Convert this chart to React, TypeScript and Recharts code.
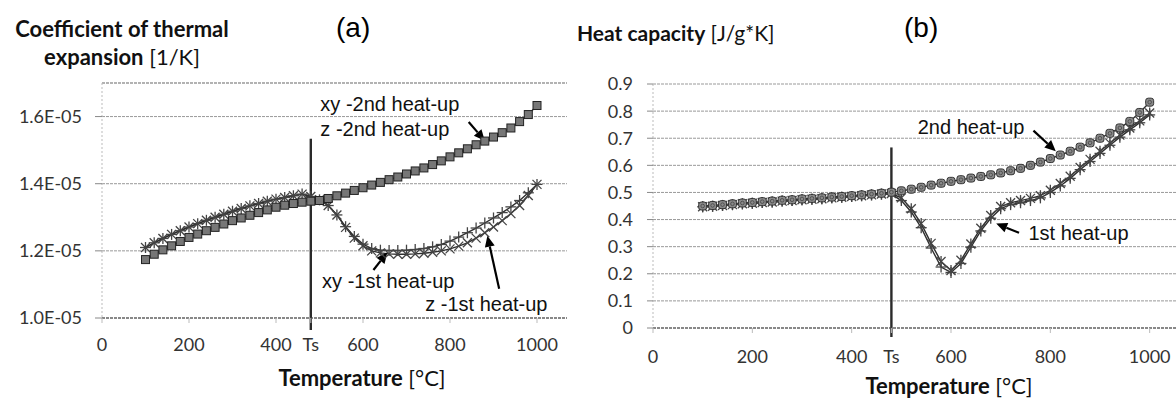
import React from 'react';
import { LineChart, Line, XAxis, YAxis, CartesianGrid, ReferenceLine, ReferenceDot } from 'recharts';

// temperature steps [°C]
const temps = [
    100, 120, 140, 160, 180, 200, 220, 240, 260, 280, 300, 320, 340, 360, 380, 400,
    420, 440, 460, 480, 500, 520, 540, 560, 580, 600, 620, 640, 660, 680, 700, 720,
    740, 760, 780, 800, 820, 840, 860, 880, 900, 920, 940, 960, 980, 1000
];

// (a) coefficient of thermal expansion, in units of 1E-05 1/K
const cteSecond = [
    1.174, 1.190, 1.203, 1.215, 1.228, 1.240, 1.250, 1.260, 1.270, 1.280, 1.290, 1.298, 1.306, 1.314, 1.322, 1.330,
    1.336, 1.341, 1.345, 1.348, 1.350, 1.356, 1.364, 1.372, 1.380, 1.388, 1.396, 1.404, 1.412, 1.420, 1.429, 1.438,
    1.447, 1.457, 1.468, 1.480, 1.492, 1.504, 1.516, 1.527, 1.539, 1.552, 1.566, 1.585, 1.606, 1.633
];
const cteFirstXY = [
    1.210, 1.224, 1.237, 1.249, 1.260, 1.271, 1.281, 1.291, 1.300, 1.309, 1.318, 1.326, 1.334, 1.341, 1.348, 1.354,
    1.359, 1.364, 1.369, 1.362, 1.352, 1.335, 1.307, 1.272, 1.243, 1.220, 1.207, 1.202, 1.201, 1.201, 1.202, 1.204,
    1.207, 1.212, 1.219, 1.229, 1.241, 1.254, 1.268, 1.283, 1.298, 1.314, 1.331, 1.350, 1.373, 1.398
];
const cteFirstZ = [
    1.210, 1.224, 1.237, 1.249, 1.260, 1.271, 1.281, 1.291, 1.300, 1.309, 1.318, 1.326, 1.334, 1.341, 1.348, 1.354,
    1.359, 1.364, 1.369, 1.362, 1.352, 1.335, 1.307, 1.270, 1.238, 1.215, 1.200, 1.194, 1.191, 1.190, 1.190, 1.191,
    1.193, 1.196, 1.200, 1.206, 1.214, 1.224, 1.238, 1.254, 1.271, 1.290, 1.311, 1.335, 1.365, 1.398
];

// (b) heat capacity [J/g*K]
const cpSecond = [
    0.450, 0.452, 0.455, 0.458, 0.461, 0.463, 0.466, 0.468, 0.471, 0.473, 0.476, 0.478, 0.480, 0.483, 0.485, 0.488,
    0.491, 0.494, 0.497, 0.501, 0.506, 0.512, 0.519, 0.527, 0.534, 0.541, 0.547, 0.553, 0.559, 0.565, 0.572, 0.580,
    0.589, 0.600, 0.612, 0.625, 0.638, 0.652, 0.667, 0.683, 0.700, 0.718, 0.738, 0.762, 0.795, 0.833
];
const cpFirstA = [
    0.447, 0.449, 0.452, 0.455, 0.458, 0.460, 0.463, 0.465, 0.468, 0.470, 0.473, 0.475, 0.477, 0.480, 0.482, 0.485,
    0.488, 0.491, 0.494, 0.496, 0.480, 0.440, 0.385, 0.312, 0.245, 0.212, 0.250, 0.310, 0.368, 0.415, 0.448, 0.462,
    0.470, 0.478, 0.488, 0.508, 0.533, 0.560, 0.592, 0.622, 0.652, 0.682, 0.712, 0.738, 0.764, 0.793
];
const cpFirstB = [
    0.447, 0.449, 0.452, 0.455, 0.458, 0.460, 0.463, 0.465, 0.468, 0.470, 0.473, 0.475, 0.477, 0.480, 0.482, 0.485,
    0.488, 0.491, 0.494, 0.494, 0.470, 0.428, 0.370, 0.295, 0.225, 0.205, 0.238, 0.298, 0.358, 0.405, 0.440, 0.455,
    0.462, 0.470, 0.480, 0.500, 0.524, 0.552, 0.584, 0.614, 0.644, 0.674, 0.704, 0.731, 0.757, 0.786
];

const xTicks = [0, 200, 400, 480, 600, 800, 1000];
const cteTicks = [1.0, 1.2, 1.4, 1.6];
const cpTicks = [0, 0.1, 0.2, 0.3, 0.4, 0.5, 0.6, 0.7, 0.8, 0.9];
const TS = 480;

const cteRows = temps.map((t, i) => ({ t, second: cteSecond[i], xy1: cteFirstXY[i], z1: cteFirstZ[i] }));
const cpRows = temps.map((t, i) => ({ t, second: cpSecond[i], firstA: cpFirstA[i], firstB: cpFirstB[i] }));

const LINE = '#2e2e2e';
const MARK = '#444';
const tickFont = { fill: '#333', fontSize: 18, fontFamily: 'Lato' };
const noteFont = { fontFamily: 'Liberation Sans', fontSize: 20, fill: '#111' };

// --- marker shapes ---
const Square = (p: any) => {
    if (p.cx == null || p.cy == null) return <g key={p.key} />;
    return <rect key={p.key} x={p.cx - 4} y={p.cy - 4} width={8} height={8} fill="#777" stroke="#222" strokeWidth={1} />;
};
const RoundSquare = (p: any) => {
    if (p.cx == null || p.cy == null) return <g key={p.key} />;
    return (
        <g key={p.key}>
            <rect x={p.cx - 4} y={p.cy - 4} width={8} height={8} rx={2.5} fill="#8a8a8a" stroke="#333" strokeWidth={1} />
            <circle cx={p.cx} cy={p.cy} r={1.8} fill="none" stroke="#444" strokeWidth={0.8} />
        </g>
    );
};
const Cross = (p: any) => {
    if (p.cx == null || p.cy == null) return <g key={p.key} />;
    const s = 4.5;
    return (
        <g key={p.key} stroke={MARK} strokeWidth={1.3}>
            <line x1={p.cx - s} y1={p.cy - s} x2={p.cx + s} y2={p.cy + s} />
            <line x1={p.cx - s} y1={p.cy + s} x2={p.cx + s} y2={p.cy - s} />
        </g>
    );
};
const Plus = (p: any) => {
    if (p.cx == null || p.cy == null) return <g key={p.key} />;
    const s = 5.5;
    return (
        <g key={p.key} stroke={MARK} strokeWidth={1.3}>
            <line x1={p.cx} y1={p.cy - s} x2={p.cx} y2={p.cy + s} />
            <line x1={p.cx - s} y1={p.cy} x2={p.cx + s} y2={p.cy} />
        </g>
    );
};
const Star = (p: any) => {
    if (p.cx == null || p.cy == null) return <g key={p.key} />;
    const s = 4.5;
    return (
        <g key={p.key} stroke={MARK} strokeWidth={1.3}>
            <line x1={p.cx - s} y1={p.cy - s} x2={p.cx + s} y2={p.cy + s} />
            <line x1={p.cx - s} y1={p.cy + s} x2={p.cx + s} y2={p.cy - s} />
            <line x1={p.cx} y1={p.cy - 5.5} x2={p.cx} y2={p.cy + 5.5} />
        </g>
    );
};

// Ts line, pulled a little below the x axis
const tsShape = (ext: number) => (p: any) => {
    const top = Math.min(p.y1, p.y2);
    const bottom = Math.max(p.y1, p.y2) + ext;
    return <line x1={p.x1} y1={top} x2={p.x2} y2={bottom} stroke="#2a2a2a" strokeWidth={2.4} />;
};

const arrowShape = (p: any) => {
    const { x1, y1, x2, y2 } = p;
    const ang = Math.atan2(y2 - y1, x2 - x1);
    const L = 11;
    const W = 5;
    const bx = x2 - L * Math.cos(ang);
    const by = y2 - L * Math.sin(ang);
    const px = -Math.sin(ang) * W;
    const py = Math.cos(ang) * W;
    return (
        <g>
            <line x1={x1} y1={y1} x2={bx} y2={by} stroke="#000" strokeWidth={2.2} />
            <polygon points={`${x2},${y2} ${bx + px},${by + py} ${bx - px},${by - py}`} fill="#000" />
        </g>
    );
};

const note = (text: string) => (p: any) => (
    <text x={p.cx} y={p.cy} dominantBaseline="central" {...noteFont}>{text}</text>
);

const fmtX = (v: number) => (v === TS ? 'Ts' : String(v));

const CteChart = () => (
    <LineChart width={640} height={398} data={cteRows} margin={{ top: 83, right: 16, bottom: 30, left: 0 }}>
        <CartesianGrid vertical={false} stroke="#999" strokeDasharray="3 1" />
        <XAxis
            dataKey="t"
            type="number"
            domain={[0, 1200]}
            ticks={xTicks}
            interval={0}
            tickFormatter={fmtX}
            height={50}
            tick={tickFont}
            tickSize={5}
            tickMargin={15}
            axisLine={{ stroke: '#444', strokeDasharray: '3 1' }}
            tickLine={{ stroke: '#bbb' }}
        />
        <YAxis
            type="number"
            domain={[1.0, 1.7]}
            ticks={cteTicks}
            interval={0}
            width={102}
            tickFormatter={(v: number) => `${v.toFixed(1)}E-05`}
            tick={tickFont}
            tickSize={7}
            tickMargin={13}
            axisLine={{ stroke: '#bbb', strokeDasharray: '2 2' }}
            tickLine={{ stroke: '#888' }}
        />
        <ReferenceLine y={1.7} stroke="#999" strokeDasharray="3 1" />
        <ReferenceLine segment={[{ x: TS, y: 1.534 }, { x: TS, y: 1.0 }]} shape={tsShape(12)} />
        <Line type="linear" dataKey="z1" stroke={LINE} strokeWidth={1.4} dot={Cross} isAnimationActive={false} />
        <Line type="linear" dataKey="xy1" stroke={LINE} strokeWidth={1.4} dot={Plus} isAnimationActive={false} />
        <Line type="linear" dataKey="second" stroke={LINE} strokeWidth={1.4} dot={Square} isAnimationActive={false} />
        <ReferenceDot x={502} y={1.637} shape={note('xy -2nd heat-up')} />
        <ReferenceDot x={502} y={1.562} shape={note('z -2nd heat-up')} />
        <ReferenceLine segment={[{ x: 843, y: 1.584 }, { x: 880, y: 1.528 }]} shape={arrowShape} />
        <ReferenceDot x={506} y={1.109} shape={note('xy -1st heat-up')} />
        <ReferenceLine segment={[{ x: 624, y: 1.143 }, { x: 656, y: 1.196 }]} shape={arrowShape} />
        <ReferenceDot x={743} y={1.042} shape={note('z -1st heat-up')} />
        <ReferenceLine segment={[{ x: 913, y: 1.087 }, { x: 886, y: 1.245 }]} shape={arrowShape} />
    </LineChart>
);

const CpChart = () => (
    <LineChart width={700} height={398} data={cpRows} margin={{ top: 84, right: 31, bottom: 30, left: 0 }}>
        <CartesianGrid vertical={false} stroke="#999" strokeDasharray="3 1" />
        <XAxis
            dataKey="t"
            type="number"
            domain={[0, 1200]}
            ticks={xTicks}
            interval={0}
            tickFormatter={fmtX}
            height={40}
            tick={tickFont}
            tickSize={5}
            tickMargin={17}
            axisLine={{ stroke: '#444', strokeDasharray: '3 1' }}
            tickLine={{ stroke: '#bbb' }}
        />
        <YAxis
            type="number"
            domain={[0, 0.9]}
            ticks={cpTicks}
            interval={0}
            width={73}
            tick={tickFont}
            tickSize={6}
            tickMargin={14}
            axisLine={{ stroke: '#bbb', strokeDasharray: '2 2' }}
            tickLine={{ stroke: '#888' }}
        />
        <ReferenceLine segment={[{ x: TS, y: 0.666 }, { x: TS, y: 0 }]} shape={tsShape(9)} />
        <Line type="linear" dataKey="firstB" stroke={LINE} strokeWidth={1.4} dot={Plus} isAnimationActive={false} />
        <Line type="linear" dataKey="firstA" stroke={LINE} strokeWidth={1.4} dot={Star} isAnimationActive={false} />
        <Line type="linear" dataKey="second" stroke={LINE} strokeWidth={1.4} dot={RoundSquare} isAnimationActive={false} />
        <ReferenceDot x={533} y={0.742} shape={note('2nd heat-up')} />
        <ReferenceLine segment={[{ x: 766, y: 0.728 }, { x: 811, y: 0.652 }]} shape={arrowShape} />
        <ReferenceDot x={756} y={0.349} shape={note('1st heat-up')} />
        <ReferenceLine segment={[{ x: 737, y: 0.351 }, { x: 691, y: 0.385 }]} shape={arrowShape} />
    </LineChart>
);

const abs = (left: number, top: number, extra: React.CSSProperties = {}): React.CSSProperties => ({
    position: 'absolute', left, top, ...extra
});

export default function App() {
    const titleFont: React.CSSProperties = { fontFamily: 'Lato', color: '#111', whiteSpace: 'nowrap' };
    return (
        <div style={{ position: 'absolute', left: 0, top: 0, width: 1176, height: 398, overflow: 'hidden', background: '#fff' }}>
            <div style={abs(0, 0, { width: 567, height: 398, overflow: 'hidden' })}>
                <CteChart />
            </div>
            <div style={abs(580, 0, { width: 596, height: 398, overflow: 'hidden' })}>
                <CpChart />
            </div>

            <div style={abs(0, 15, { ...titleFont, fontSize: 22, width: 244, textAlign: 'center', lineHeight: '28px' })}>
                <b>Coefficient of thermal</b>
                <br />
                <b>expansion</b> [1/K]
            </div>
            <div style={abs(577, 19, { ...titleFont, fontSize: 21, lineHeight: '28px' })}>
                <b>Heat capacity</b> [J/g*K]
            </div>

            <div style={abs(336, 10, { fontFamily: 'Liberation Sans', fontSize: 28, lineHeight: '36px' })}>(a)</div>
            <div style={abs(904, 10, { fontFamily: 'Liberation Sans', fontSize: 28, lineHeight: '36px' })}>(b)</div>

            <div style={abs(252, 364, { ...titleFont, fontSize: 22, width: 220, textAlign: 'center', lineHeight: '28px' })}>
                <b>Temperature</b> [°C]
            </div>
            <div style={abs(839, 372, { ...titleFont, fontSize: 22, width: 220, textAlign: 'center', lineHeight: '28px' })}>
                <b>Temperature</b> [°C]
            </div>
        </div>
    );
}
